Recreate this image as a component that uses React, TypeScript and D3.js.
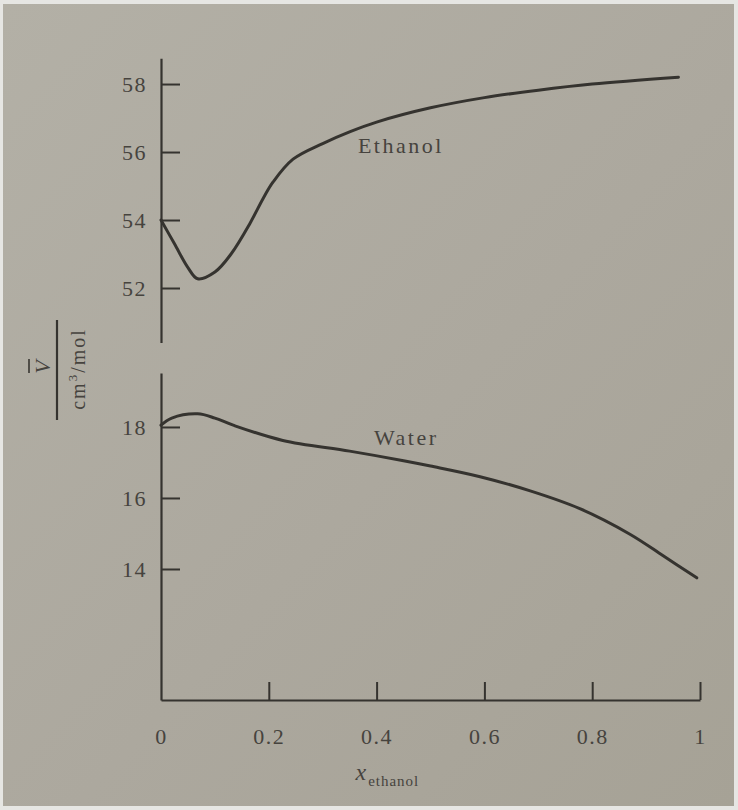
import React, { useEffect, useRef } from "react";
import * as d3 from "d3";

// partial molar volume curves
const ethanolX = [0, 0.025, 0.05, 0.068, 0.1, 0.13, 0.165, 0.19, 0.208, 0.245, 0.3, 0.351, 0.4, 0.5, 0.6, 0.7, 0.8, 0.96];
const ethanolV = [54.0, 53.3, 52.6, 52.27, 52.47, 53.0, 53.9, 54.65, 55.12, 55.79, 56.25, 56.6, 56.88, 57.3, 57.6, 57.82, 58.0, 58.2];

const waterX = [0, 0.02, 0.068, 0.1, 0.134, 0.226, 0.35, 0.45, 0.5, 0.592, 0.685, 0.777, 0.87, 0.931, 0.994];
const waterV = [18.05, 18.25, 18.37, 18.25, 18.05, 17.62, 17.32, 17.05, 16.9, 16.6, 16.2, 15.7, 14.98, 14.38, 13.75];

const xTicks = [0, 0.2, 0.4, 0.6, 0.8, 1];
const topTicks = [52, 54, 56, 58];
const bottomTicks = [14, 16, 18];

const W = 738;
const H = 810;

const App: React.FC = () => {
  const ref = useRef<SVGSVGElement>(null);

  useEffect(() => {
    const svg = d3.select(ref.current);
    svg.selectAll("*").remove();

    const ink = "#35332f";
    const textInk = "#46433e";
    const font = "'Liberation Serif', 'Times New Roman', serif";

    // photo background
    const defs = svg.append("defs");
    const grad = defs
      .append("linearGradient")
      .attr("id", "paper")
      .attr("x1", 0)
      .attr("y1", 0)
      .attr("x2", 1)
      .attr("y2", 1);
    grad.append("stop").attr("offset", "0%").attr("stop-color", "#b3b0a6");
    grad.append("stop").attr("offset", "55%").attr("stop-color", "#aca89e");
    grad.append("stop").attr("offset", "100%").attr("stop-color", "#a6a296");

    svg.append("rect").attr("width", W).attr("height", H).attr("fill", "#e6e6e3");
    svg
      .append("rect")
      .attr("x", 3)
      .attr("y", 4)
      .attr("width", W - 7)
      .attr("height", H - 8)
      .attr("fill", "url(#paper)");

    // scales
    const x = d3.scaleLinear().domain([0, 1]).range([161, 700]);
    const yTop = d3.scaleLinear().domain([50.4, 58.76]).range([342.4, 58.2]);
    const yBot = d3.scaleLinear().domain([10.31, 19.52]).range([700, 373]);

    const styleAxis = (g: d3.Selection<SVGGElement, unknown, null, undefined>) => {
      g.select(".domain").attr("stroke", ink).attr("stroke-width", 2.2);
      g.selectAll(".tick line").attr("stroke", ink).attr("stroke-width", 2);
      g.selectAll(".tick text")
        .attr("fill", textInk)
        .attr("font-family", font)
        .attr("font-size", 22)
        .attr("letter-spacing", 1.5);
    };

    // upper y axis (ethanol)
    svg
      .append("g")
      .attr("transform", "translate(161,0)")
      .call(
        d3.axisLeft(yTop).tickValues(topTicks).tickSizeInner(-19).tickSizeOuter(0).tickPadding(14).tickFormat(d3.format("d"))
      )
      .call(styleAxis);

    // lower y axis (water)
    svg
      .append("g")
      .attr("transform", "translate(161,0)")
      .call(
        d3.axisLeft(yBot).tickValues(bottomTicks).tickSizeInner(-19).tickSizeOuter(0).tickPadding(14).tickFormat(d3.format("d"))
      )
      .call(styleAxis);

    // x axis
    const xAxis = svg
      .append("g")
      .attr("transform", "translate(0,700)")
      .call(
        d3
          .axisBottom(x)
          .tickValues(xTicks)
          .tickSizeInner(-18)
          .tickSizeOuter(0)
          .tickPadding(28)
          .tickFormat((d) => (d === 0 || d === 1 ? String(d) : d3.format(".1f")(d as number)))
      )
      .call(styleAxis);
    xAxis.selectAll(".tick line").filter((d) => d === 0).remove();

    // curves
    const line = (ys: d3.ScaleLinear<number, number>) =>
      d3
        .line<[number, number]>()
        .x((d) => x(d[0]))
        .y((d) => ys(d[1]))
        .curve(d3.curveCatmullRom.alpha(0.5));

    svg
      .append("path")
      .datum(ethanolX.map((v, i) => [v, ethanolV[i]] as [number, number]))
      .attr("fill", "none")
      .attr("stroke", ink)
      .attr("stroke-width", 3)
      .attr("stroke-linecap", "round")
      .attr("d", line(yTop));

    svg
      .append("path")
      .datum(waterX.map((v, i) => [v, waterV[i]] as [number, number]))
      .attr("fill", "none")
      .attr("stroke", ink)
      .attr("stroke-width", 3)
      .attr("stroke-linecap", "round")
      .attr("d", line(yBot));

    // curve labels
    const label = (text: string, lx: number, ly: number) =>
      svg
        .append("text")
        .attr("x", lx)
        .attr("y", ly)
        .attr("text-anchor", "middle")
        .attr("fill", textInk)
        .attr("font-family", font)
        .attr("font-size", 22)
        .attr("letter-spacing", 2.5)
        .text(text);

    label("Ethanol", x(0.445), 153);
    label("Water", x(0.455), 445);

    // x axis title
    const xt = svg
      .append("text")
      .attr("x", x(0.42))
      .attr("y", 780)
      .attr("text-anchor", "middle")
      .attr("fill", textInk)
      .attr("font-family", font);
    xt.append("tspan").attr("font-size", 24).attr("font-style", "italic").text("x");
    xt.append("tspan").attr("font-size", 15).attr("dy", 6).attr("dx", 2).attr("letter-spacing", 1).text("ethanol");

    // y axis title: V-bar over cm3/mol, rotated
    const vg = svg.append("g").attr("transform", "translate(43,367) rotate(-90)");
    vg.append("text")
      .attr("x", 0)
      .attr("y", 7)
      .attr("text-anchor", "middle")
      .attr("fill", textInk)
      .attr("font-family", font)
      .attr("font-size", 22)
      .attr("font-style", "italic")
      .text("V");
    vg.append("line")
      .attr("x1", -6)
      .attr("x2", 8)
      .attr("y1", -14)
      .attr("y2", -14)
      .attr("stroke", textInk)
      .attr("stroke-width", 1.8);

    svg
      .append("line")
      .attr("x1", 57)
      .attr("x2", 57)
      .attr("y1", 320)
      .attr("y2", 420)
      .attr("stroke", ink)
      .attr("stroke-width", 2.2);

    const ug = svg.append("g").attr("transform", "translate(85,369) rotate(-90)");
    const ut = ug
      .append("text")
      .attr("text-anchor", "middle")
      .attr("fill", textInk)
      .attr("font-family", font)
      .attr("font-size", 20)
      .attr("letter-spacing", 2);
    ut.append("tspan").text("cm");
    ut.append("tspan").attr("font-size", 13).attr("dy", -8).text("3");
    ut.append("tspan").attr("dy", 8).text("/mol");
  }, []);

  return (
    <svg
      ref={ref}
      width={W}
      height={H}
      style={{ position: "absolute", left: 0, top: 0, display: "block" }}
    />
  );
};

export default App;
